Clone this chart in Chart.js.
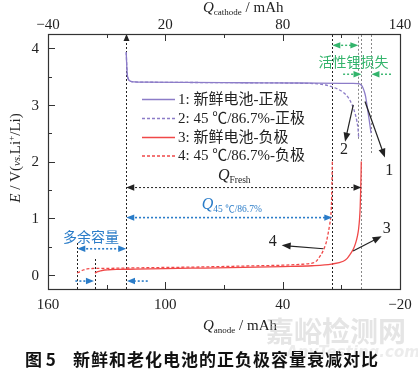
<!DOCTYPE html>
<html>
<head>
<meta charset="utf-8">
<script src="https://cdn.jsdelivr.net/npm/chart.js@4.4.1/dist/chart.umd.min.js"></script>
<style>
  html, body { margin: 0; padding: 0; background: #fff; }
  #wrap { position: relative; width: 418px; height: 373px; }
</style>
</head>
<body>
<div id="wrap"><canvas id="capacityChart"></canvas></div>
<script>
// cathode curves sit on the top axis (Q_cathode), anode curves on the bottom one (Q_anode)
const freshCathodeQ = [0, 0.2, 0.5, 1, 2, 4, 10, 30, 60, 90, 110, 116, 118.5, 119.8, 120.8, 121.6, 122.4, 123.4, 124.3, 125.2];
const freshCathodeE = [3.93, 3.75, 3.55, 3.46, 3.42, 3.405, 3.4, 3.395, 3.39, 3.385, 3.38, 3.38, 3.375, 3.36, 3.32, 3.25, 3.15, 2.93, 2.72, 2.5];

const agedCathodeQ = [0, 0.2, 0.5, 1, 2, 4, 10, 30, 60, 90, 98, 102, 105, 108, 111, 113.5, 115.5, 117, 118, 118.6, 118.9];
const agedCathodeE = [3.93, 3.75, 3.55, 3.46, 3.42, 3.405, 3.4, 3.395, 3.39, 3.38, 3.37, 3.35, 3.32, 3.28, 3.22, 3.13, 3.0, 2.85, 2.7, 2.55, 2.4];

const freshAnodeQ = [136, 134.5, 133, 131, 129, 125, 115, 100, 80, 60, 40, 25, 15, 9, 7, 5.5, 3.9, 2.7, 1.8, 1.2, 0.7, 0.35, 0.1, -0.1, -0.2];
const freshAnodeE = [0.03, 0.055, 0.07, 0.085, 0.09, 0.095, 0.1, 0.11, 0.12, 0.13, 0.145, 0.16, 0.19, 0.24, 0.29, 0.36, 0.45, 0.56, 0.68, 0.8, 0.98, 1.2, 1.5, 1.8, 2.0];

const agedAnodeQ = [145, 143.5, 142, 140, 138, 135, 130, 120, 100, 80, 60, 40, 31, 26, 24.5, 22.5, 20.9, 19.5, 18.4, 17.5, 16.7, 16, 15.4, 15, 14.8, 14.6];
const agedAnodeE = [0.03, 0.06, 0.085, 0.105, 0.11, 0.115, 0.115, 0.12, 0.13, 0.14, 0.155, 0.17, 0.185, 0.2, 0.21, 0.25, 0.33, 0.41, 0.5, 0.6, 0.74, 0.88, 1.03, 1.3, 1.62, 2.0];

const seriesLabels = ['1: 新鲜电池-正极', '2: 45 ℃/86.7%-正极', '3: 新鲜电池-负极', '4: 45 ℃/86.7%-负极'];

const cathodeTicks = [-40, -10, 20, 50, 80, 110, 140];
const cathodeLabels = [-40, 20, 80, 140];
const anodeTicks = [-20, 10, 40, 70, 100, 130, 160];
const anodeLabels = [-20, 40, 100, 160];
const voltageTicks = [0, 0.5, 1, 1.5, 2, 2.5, 3, 3.5, 4];
const voltageLabels = [0, 1, 2, 3, 4];

const SERIF = '"Liberation Serif", "Noto Sans CJK SC", serif';
const CJK = '"Noto Sans CJK SC", sans-serif';
const PURPLE = '#8c7cc8';
const RED = '#f04848';
const BLUE = '#2a7cc8';
const GREEN = '#34b46c';
const INK = '#222';

// guide lines, arrows and notes, positioned in Q_cathode / E units
const guides = [
  { q: 0, from: -0.25, to: 4.25, color: INK, headUp: true },
  { q: 105.4, from: -0.25, to: 4.25, color: INK },
  { q: 118.7, from: 2.4, to: 4.25, color: '#888' },
  { q: 120.3, from: -0.25, to: 4.25, color: '#888' },
  { q: 125.2, from: 2.15, to: 4.25, color: '#888' },
  { q: -25, from: -0.25, to: 0.58, color: INK },
  { q: -16, from: -0.25, to: 0.3, color: INK }
];

const spans = [
  { from: 0, to: 120.3, e: 1.54, color: INK, both: true, width: 1 },
  { from: 0, to: 105.4, e: 1.01, color: BLUE, both: true, width: 1.6 },
  { from: -25, to: 0, e: 0.46, color: BLUE, both: true, width: 1.6 },
  { from: -26, to: -16.5, e: -0.11, color: BLUE, both: false, width: 1.6 },
  { from: 11, to: 0.4, e: -0.11, color: BLUE, both: false, width: 1.6 },
  { from: 105.4, to: 118.7, e: 4.05, color: GREEN, both: true, width: 1.4 },
  { from: 110.9, to: 120.3, e: 3.54, color: GREEN, both: false, width: 1.4 },
  { from: 135.4, to: 125.4, e: 3.54, color: GREEN, both: false, width: 1.4 }
];

const pointers = [
  { from: [122.1, 3.06], to: [132.3, 2.07], label: '1', at: [134.5, 1.84] },
  { from: [116.1, 3.0], to: [111.9, 2.35], label: '2', at: [111.4, 2.21] },
  { from: [116.0, 0.42], to: [130.6, 0.68], label: '3', at: [133.2, 0.81] },
  { from: [100.8, 0.46], to: [79.5, 0.52], label: '4', at: [74.9, 0.59] }
];

function toPoints(xs, ys) {
  return xs.map((x, i) => ({ x, y: ys[i] }));
}

function fmtTick(v) {
  return v < 0 ? '\u2212' + Math.abs(v) : String(v);
}

function arrowHead(ctx, x, y, dir, color, len, half) {
  const c = Math.cos(dir), s = Math.sin(dir);
  ctx.save();
  ctx.setLineDash([]);
  ctx.fillStyle = color;
  ctx.beginPath();
  ctx.moveTo(x, y);
  ctx.lineTo(x - len * c + half * s, y - len * s - half * c);
  ctx.lineTo(x - len * c - half * s, y - len * s + half * c);
  ctx.closePath();
  ctx.fill();
  ctx.restore();
}

function arrow(ctx, x1, y1, x2, y2, color, width, dash, both, len = 8, half = 3.2) {
  const dir = Math.atan2(y2 - y1, x2 - x1);
  ctx.save();
  ctx.strokeStyle = color;
  ctx.lineWidth = width;
  ctx.setLineDash(dash);
  ctx.beginPath();
  ctx.moveTo(x1 + (both ? len * 0.6 * Math.cos(dir) : 0), y1 + (both ? len * 0.6 * Math.sin(dir) : 0));
  ctx.lineTo(x2 - len * 0.6 * Math.cos(dir), y2 - len * 0.6 * Math.sin(dir));
  ctx.stroke();
  ctx.restore();
  arrowHead(ctx, x2, y2, dir, color, len, half);
  if (both) arrowHead(ctx, x1, y1, dir + Math.PI, color, len, half);
}

// draws text pieces one after another: [text, font, dy]
function richText(ctx, x, y, parts, color) {
  ctx.save();
  ctx.fillStyle = color;
  ctx.textAlign = 'left';
  ctx.textBaseline = 'alphabetic';
  let cx = x;
  parts.forEach(([text, font, dy]) => {
    ctx.font = font;
    ctx.fillText(text, cx, y + (dy || 0));
    cx += ctx.measureText(text).width;
  });
  ctx.restore();
  return cx - x;
}

function richWidth(ctx, parts) {
  ctx.save();
  let w = 0;
  parts.forEach(([text, font]) => { ctx.font = font; w += ctx.measureText(text).width; });
  ctx.restore();
  return w;
}

function drawTicks(ctx, scale, values, majors, side) {
  const area = scale.chart.chartArea;
  ctx.save();
  ctx.strokeStyle = '#333';
  ctx.lineWidth = 1;
  ctx.fillStyle = INK;
  ctx.font = '15px ' + SERIF;
  values.forEach(v => {
    const major = majors.includes(v);
    const len = major ? 7 : 4;
    const raw = scale.getPixelForValue(v);
    const p = Math.round(raw) + 0.5;
    ctx.beginPath();
    if (side === 'left') { ctx.moveTo(area.left, p); ctx.lineTo(area.left + len, p); }
    if (side === 'top') { ctx.moveTo(p, area.top); ctx.lineTo(p, area.top + len); }
    if (side === 'bottom') { ctx.moveTo(p, area.bottom); ctx.lineTo(p, area.bottom - len); }
    ctx.stroke();
    if (!major) return;
    const text = fmtTick(v);
    if (side === 'left') {
      ctx.textAlign = 'right';
      ctx.textBaseline = 'middle';
      ctx.fillText(text, area.left - 9, raw + 1);
    } else {
      ctx.textAlign = 'center';
      ctx.textBaseline = 'middle';
      ctx.fillText(text, raw, side === 'top' ? area.top - 9 : area.bottom + 16);
    }
  });
  ctx.restore();
}

const decorPlugin = {
  id: 'decor',
  beforeDatasetsDraw(chart) {
    const { ctx, scales } = chart;
    guides.forEach(g => {
      const x = Math.round(scales.xc.getPixelForValue(g.q)) + 0.5;
      const y1 = scales.y.getPixelForValue(g.from);
      const y2 = scales.y.getPixelForValue(g.to);
      ctx.save();
      ctx.strokeStyle = g.color;
      ctx.lineWidth = 1;
      ctx.setLineDash([2, 2]);
      ctx.beginPath();
      ctx.moveTo(x, y1);
      ctx.lineTo(x, y2 + (g.headUp ? 6 : 0));
      ctx.stroke();
      ctx.restore();
      if (g.headUp) arrowHead(ctx, x, y2, -Math.PI / 2, g.color, 7, 3);
    });
  },
  afterDatasetsDraw(chart) {
    const { ctx, scales, chartArea: a } = chart;
    const X = q => scales.xc.getPixelForValue(q);
    const Y = e => scales.y.getPixelForValue(e);

    spans.forEach(s => {
      arrow(ctx, X(s.from), Y(s.e), X(s.to), Y(s.e), s.color, s.width, [2, 2], s.both, 8, 3.2);
    });

    pointers.forEach(p => {
      arrow(ctx, X(p.from[0]), Y(p.from[1]), X(p.to[0]), Y(p.to[1]), INK, 1.2, [], false, 9, 3.5);
      ctx.save();
      ctx.font = '16px ' + SERIF;
      ctx.fillStyle = INK;
      ctx.textAlign = 'center';
      ctx.textBaseline = 'middle';
      ctx.fillText(p.label, X(p.at[0]), Y(p.at[1]));
      ctx.restore();
    });

    // notes
    richText(ctx, X(46.9), Y(1.68), [['Q', 'italic 16px ' + SERIF], ['Fresh', '9.5px ' + SERIF, 3]], INK);
    richText(ctx, X(38.6), Y(1.17), [['Q', 'italic 16px ' + SERIF], ['45 ℃/86.7%', '9.5px ' + SERIF, 3]], BLUE);
    ctx.save();
    ctx.textAlign = 'center';
    ctx.textBaseline = 'middle';
    ctx.font = '14px ' + CJK;
    ctx.fillStyle = BLUE;
    ctx.fillText('多余容量', X(-18), Y(0.675));
    ctx.fillStyle = GREEN;
    ctx.fillText('活性锂损失', X(116.2), Y(3.76));
    ctx.restore();

    // legend
    const rows = [99, 118, 137, 155.5];
    chart.data.datasets.forEach((ds, i) => {
      ctx.save();
      ctx.strokeStyle = ds.borderColor;
      ctx.lineWidth = 1.3;
      ctx.setLineDash(ds.borderDash || []);
      ctx.beginPath();
      ctx.moveTo(142, rows[i] + 0.5);
      ctx.lineTo(175, rows[i] + 0.5);
      ctx.stroke();
      ctx.font = '15px ' + SERIF;
      ctx.fillStyle = INK;
      ctx.textBaseline = 'middle';
      ctx.fillText(ds.label, 178, rows[i] + 1);
      ctx.restore();
    });

    // frame, inward ticks and tick labels
    ctx.save();
    ctx.strokeStyle = '#333';
    ctx.lineWidth = 1.2;
    ctx.strokeRect(Math.round(a.left) + 0.5, Math.round(a.top) + 0.5, Math.round(a.width), Math.round(a.height));
    ctx.restore();
    drawTicks(ctx, scales.xc, cathodeTicks, cathodeLabels, 'top');
    drawTicks(ctx, scales.xa, anodeTicks, anodeLabels, 'bottom');
    drawTicks(ctx, scales.y, voltageTicks, voltageLabels, 'left');
  },
  afterDraw(chart) {
    const { ctx } = chart;
    richText(ctx, 203, 12, [['Q', 'italic 15px ' + SERIF], ['cathode', '9px ' + SERIF, 3], [' / mAh', '15px ' + SERIF]], INK);
    richText(ctx, 203, 330, [['Q', 'italic 15px ' + SERIF], ['anode', '9px ' + SERIF, 3], [' / mAh', '15px ' + SERIF]], INK);

    const yTitle = [['E', 'italic 15px ' + SERIF], [' / V(', '15px ' + SERIF], ['vs.', 'italic 11px ' + SERIF],
      ['Li', '15px ' + SERIF], ['+', '9px ' + SERIF, -6], ['/Li)', '15px ' + SERIF]];
    const w = richWidth(ctx, yTitle);
    ctx.save();
    ctx.translate(20, 158);
    ctx.rotate(-Math.PI / 2);
    richText(ctx, -w / 2, 0, yTitle, INK);
    ctx.restore();

    // watermark
    ctx.save();
    ctx.textAlign = 'center';
    ctx.textBaseline = 'middle';
    ctx.font = 'bold 28px ' + CJK;
    ctx.fillStyle = 'rgba(190,190,190,0.4)';
    ctx.fillText('嘉峪检测网', 336, 331);
    ctx.font = 'italic bold 15px "DejaVu Sans", sans-serif';
    ctx.fillStyle = 'rgba(200,200,200,0.35)';
    ctx.fillText('AnyTesting.com', 353, 353);
    ctx.restore();

    // caption
    ctx.save();
    ctx.font = 'bold 17px ' + CJK;
    ctx.fillStyle = '#111';
    ctx.textBaseline = 'middle';
    ctx.fillText('图 5', 25, 360);
    if ('letterSpacing' in ctx) ctx.letterSpacing = '1px';
    ctx.fillText('新鲜和老化电池的正负极容量衰减对比', 73, 360);
    ctx.restore();
  }
};

function hiddenTicks() {
  return { display: false, autoSkip: false, maxRotation: 0 };
}

function buildChart() {
  const canvas = document.getElementById('capacityChart');
  if (!canvas || typeof Chart === 'undefined') return;

  new Chart(canvas, {
    type: 'scatter',
    data: {
      datasets: [
        { label: seriesLabels[0], data: toPoints(freshCathodeQ, freshCathodeE), xAxisID: 'xc', borderColor: PURPLE },
        { label: seriesLabels[1], data: toPoints(agedCathodeQ, agedCathodeE), xAxisID: 'xc', borderColor: PURPLE, borderDash: [3, 2] },
        { label: seriesLabels[2], data: toPoints(freshAnodeQ, freshAnodeE), xAxisID: 'xa', borderColor: RED },
        { label: seriesLabels[3], data: toPoints(agedAnodeQ, agedAnodeE), xAxisID: 'xa', borderColor: RED, borderDash: [3, 2] }
      ].map(ds => Object.assign(ds, {
        yAxisID: 'y',
        showLine: true,
        pointRadius: 0,
        borderWidth: 1.3,
        cubicInterpolationMode: 'monotone'
      }))
    },
    options: {
      responsive: true,
      maintainAspectRatio: false,
      animation: false,
      layout: { padding: { left: 0, right: 18, top: 0, bottom: 0 } },
      scales: {
        xc: {
          type: 'linear',
          position: 'top',
          min: -40,
          max: 140,
          grid: { display: false },
          border: { display: false },
          afterBuildTicks: s => { s.ticks = cathodeTicks.map(v => ({ value: v })); },
          afterFit: s => { s.height = 34; },
          ticks: hiddenTicks()
        },
        xa: {
          type: 'linear',
          position: 'bottom',
          min: -20,
          max: 160,
          reverse: true,
          grid: { display: false },
          border: { display: false },
          afterBuildTicks: s => { s.ticks = anodeTicks.map(v => ({ value: v })); },
          afterFit: s => { s.height = 84; },
          ticks: hiddenTicks()
        },
        y: {
          type: 'linear',
          min: -0.25,
          max: 4.25,
          grid: { display: false },
          border: { display: false },
          afterBuildTicks: s => { s.ticks = voltageTicks.map(v => ({ value: v })); },
          afterFit: s => { s.width = 48; },
          ticks: hiddenTicks()
        }
      },
      plugins: {
        legend: { display: false },
        tooltip: { enabled: false }
      }
    },
    plugins: [decorPlugin]
  });
}

document.addEventListener('DOMContentLoaded', buildChart);
</script>
</body>
</html>
